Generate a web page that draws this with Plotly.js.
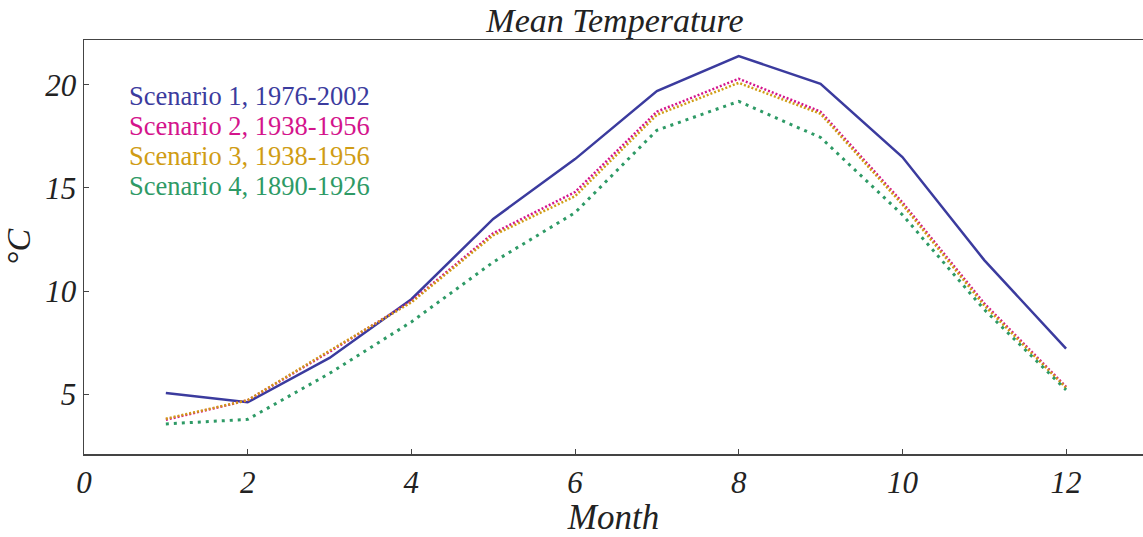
<!DOCTYPE html>
<html>
<head>
<meta charset="utf-8">
<script src="https://cdn.plot.ly/plotly-3.0.1.min.js"></script>
<style>html,body{margin:0;padding:0;background:#fff;}#chart{width:1143px;height:537px;}</style>
</head>
<body>
<div id="chart"></div>
<script>
const months = [1, 2, 3, 4, 5, 6, 7, 8, 9, 10, 11, 12];
const scenario1 = [5.05, 4.6, 6.75, 9.6, 13.5, 16.4, 19.7, 21.4, 20.05, 16.5, 11.5, 7.2];
const scenario2 = [3.75, 4.7, 7.05, 9.5, 12.8, 14.8, 18.7, 20.3, 18.7, 14.3, 9.4, 5.35];
const scenario3 = [3.8, 4.7, 7.1, 9.45, 12.7, 14.6, 18.55, 20.1, 18.6, 14.2, 9.3, 5.3];
const scenario4 = [3.55, 3.77, 6.0, 8.5, 11.4, 13.8, 17.8, 19.2, 17.45, 13.7, 9.1, 5.2];
const seriesNames = ["Scenario 1, 1976-2002", "Scenario 2, 1938-1956", "Scenario 3, 1938-1956", "Scenario 4, 1890-1926"];
const seriesColors = ["#3b3b9e", "#d4148c", "#d09c14", "#2e9a66"];
const seriesDash = ["solid", "2px,2px", "2px,2px", "3px,5px"];
const seriesWidth = [2.5, 2.5, 2.5, 3];
const xTicks = [0, 2, 4, 6, 8, 10, 12];
const yTicks = [5, 10, 15, 20];
const allSeries = [scenario1, scenario2, scenario3, scenario4];

const serif = "'Liberation Serif', 'DejaVu Serif', serif";

const traces = allSeries.map((vals, i) => ({
  x: months, y: vals, type: "scatter", mode: "lines", name: seriesNames[i],
  line: {color: seriesColors[i], width: seriesWidth[i], dash: seriesDash[i]},
  showlegend: false
}));

const annotations = seriesNames.map((n, i) => ({
  text: n, xref: "paper", yref: "paper", x: 0.0405, y: 0.865 - i * 0.0727,
  xanchor: "left", yanchor: "middle", showarrow: false,
  font: {family: serif, size: 26.5, color: seriesColors[i]}
}));

const layout = {
  width: 1143, height: 537,
  margin: {l: 84, r: 0, t: 40, b: 83},
  paper_bgcolor: "#fff", plot_bgcolor: "#fff",
  title: {text: "Mean Temperature", font: {family: serif, size: 34, color: "#222", style: "italic"}, x: 0.538, xanchor: "center", y: 0.962, yanchor: "middle"},
  xaxis: {
    range: [0, 12.94], tickvals: xTicks, ticktext: xTicks.map(String),
    showgrid: false, zeroline: false, showline: true, linecolor: "#444", linewidth: 1.5, mirror: true,
    ticks: "inside", ticklen: 5, tickcolor: "#444",
    tickfont: {family: serif, size: 31, color: "#222", style: "italic"},
    title: {text: "Month", font: {family: serif, size: 35, color: "#222", style: "italic"}, standoff: 4}
  },
  yaxis: {
    range: [2.09, 22.18], tickvals: yTicks, ticktext: yTicks.map(String),
    showgrid: false, zeroline: false, showline: true, linecolor: "#444", linewidth: 1.5,
    ticks: "inside", ticklen: 5, tickcolor: "#444",
    tickfont: {family: serif, size: 31, color: "#222", style: "italic"},
    title: {text: "°C", font: {family: serif, size: 34, color: "#222", style: "italic"}, standoff: 10}
  },
  annotations: annotations
};

Plotly.newPlot("chart", traces, layout, {staticPlot: true});
</script>
</body>
</html>
